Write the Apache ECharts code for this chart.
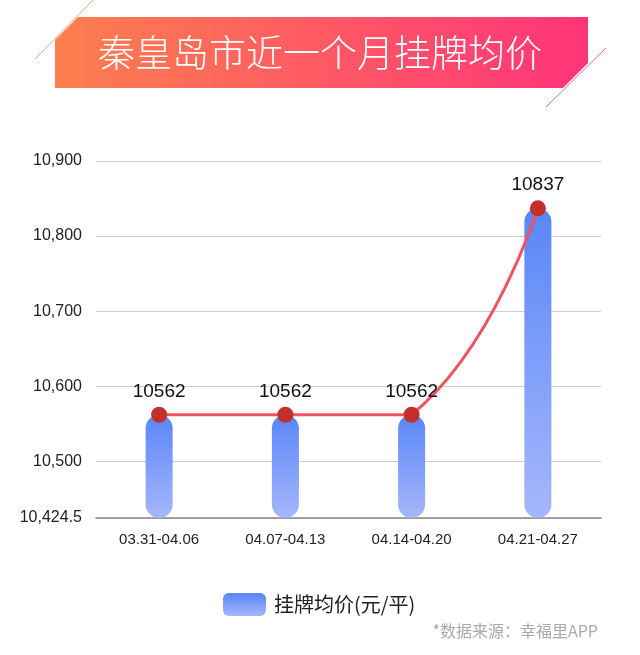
<!DOCTYPE html>
<html>
<head>
<meta charset="utf-8">
<script src="https://cdn.jsdelivr.net/npm/echarts@6/dist/echarts.min.js"></script>
<style>
html,body{margin:0;padding:0;background:#fff;}
#main{width:640px;height:655px;}
</style>
</head>
<body>
<div id="main"></div>
<script>
const titleText = '秦皇岛市近一个月挂牌均价';
const categories = ['03.31-04.06', '04.07-04.13', '04.14-04.20', '04.21-04.27'];
const seriesName = '挂牌均价(元/平)';
const prices = [10562, 10562, 10562, 10837];
const yMin = 10424.5;
const yMax = 10900;
const sourceNote = '*数据来源：幸福里APP';

const chart = echarts.init(document.getElementById('main'));
const latin = '"Liberation Sans", Arial, "Noto Sans CJK SC", sans-serif';
const barGrad = new echarts.graphic.LinearGradient(0, 0, 0, 1, [
  {offset: 0, color: '#5886f8'},
  {offset: 1, color: '#a6b7fb'}
]);

// classic bezier smoothing constrained to the points' bounding box
function smoothPath(pts, smooth) {
  let minX = Infinity, minY = Infinity, maxX = -Infinity, maxY = -Infinity;
  pts.forEach(function (p) {
    minX = Math.min(minX, p[0]); maxX = Math.max(maxX, p[0]);
    minY = Math.min(minY, p[1]); maxY = Math.max(maxY, p[1]);
  });
  const clamp = function (p) {
    return [Math.min(Math.max(p[0], minX), maxX), Math.min(Math.max(p[1], minY), maxY)];
  };
  const cps = [];
  for (let i = 0; i < pts.length; i++) {
    const p = pts[i];
    if (i === 0 || i === pts.length - 1) { cps.push(p.slice()); continue; }
    const prev = pts[i - 1], next = pts[i + 1];
    const vx = (next[0] - prev[0]) * smooth, vy = (next[1] - prev[1]) * smooth;
    let d0 = Math.hypot(p[0] - prev[0], p[1] - prev[1]);
    let d1 = Math.hypot(p[0] - next[0], p[1] - next[1]);
    const sum = d0 + d1;
    if (sum) { d0 /= sum; d1 /= sum; }
    cps.push(clamp([p[0] - vx * d0, p[1] - vy * d0]));
    cps.push(clamp([p[0] + vx * d1, p[1] + vy * d1]));
  }
  let d = 'M' + pts[0][0] + ' ' + pts[0][1];
  for (let i = 0; i < pts.length - 1; i++) {
    const c1 = cps[i * 2], c2 = cps[i * 2 + 1], e = pts[i + 1];
    d += ' C' + c1[0] + ' ' + c1[1] + ' ' + c2[0] + ' ' + c2[1] + ' ' + e[0] + ' ' + e[1];
  }
  return d;
}

chart.setOption({
  backgroundColor: '#fff',
  textStyle: {fontFamily: latin},
  graphic: [
    {
      type: 'polygon', z: 10,
      shape: {points: [[55,40],[78,17],[588,17],[588,63],[563,88],[55,88]]},
      style: {fill: new echarts.graphic.LinearGradient(0, 0, 1, 0, [
        {offset: 0, color: '#fd7f4e'},
        {offset: 1, color: '#ff347a'}
      ])}
    },
    {type: 'line', z: 9, shape: {x1: 35, y1: 59, x2: 93, y2: 0}, style: {stroke: '#f7a07c', lineWidth: 1}},
    {type: 'line', z: 9, shape: {x1: 546, y1: 107, x2: 606, y2: 48}, style: {stroke: '#f36b95', lineWidth: 1}},
    {
      type: 'text', z: 11, left: 'center', top: 34,
      style: {text: titleText, fill: '#fff', font: '300 37px "Noto Sans CJK SC", sans-serif'}
    },
    {
      type: 'text', z: 11, right: 42, top: 623,
      style: {text: sourceNote, fill: '#aaaaaa', font: '16px "Noto Sans CJK SC", sans-serif'}
    }
  ],
  legend: {
    data: [seriesName],
    left: 218, top: 588,
    itemWidth: 43, itemHeight: 23,
    icon: 'roundRect',
    textStyle: {fontSize: 20, color: '#222', fontFamily: '"Noto Sans CJK SC", sans-serif', padding: [0, 0, 0, 3]}
  },
  grid: {left: 96, right: 39, top: 161, bottom: 137},
  xAxis: {
    type: 'category',
    data: categories,
    axisLine: {lineStyle: {color: '#888', width: 1.5}},
    axisTick: {inside: true, length: 8, lineStyle: {color: '#888'}},
    axisLabel: {fontSize: 15, color: '#222', margin: 14}
  },
  yAxis: {
    type: 'value',
    min: yMin, max: yMax,
    splitNumber: 5,
    minInterval: 100, maxInterval: 100,
    axisLine: {show: false},
    axisTick: {show: false},
    axisLabel: {fontSize: 16, color: '#222', margin: 14},
    splitLine: {lineStyle: {color: '#cccccc', width: 1}}
  },
  series: [
    {
      name: seriesName,
      type: 'bar',
      data: prices,
      barWidth: 27,
      itemStyle: {color: barGrad, borderRadius: 14},
      z: 2
    },
    {
      name: 'curve',
      type: 'custom',
      data: [[0, prices[0]]],
      silent: true,
      z: 3,
      renderItem: function (params, api) {
        const pts = prices.map(function (v, i) { return api.coord([i, v]); });
        return {
          type: 'path',
          shape: {pathData: smoothPath(pts, 0.5)},
          style: {stroke: '#f0525f', lineWidth: 3, fill: null}
        };
      }
    },
    {
      name: 'points',
      type: 'line',
      data: prices,
      symbol: 'circle',
      symbolSize: 16,
      lineStyle: {opacity: 0, width: 0},
      itemStyle: {color: '#c3302c'},
      label: {show: true, position: 'top', distance: 6, fontSize: 19, color: '#111'},
      z: 4
    }
  ]
});
</script>
</body>
</html>
